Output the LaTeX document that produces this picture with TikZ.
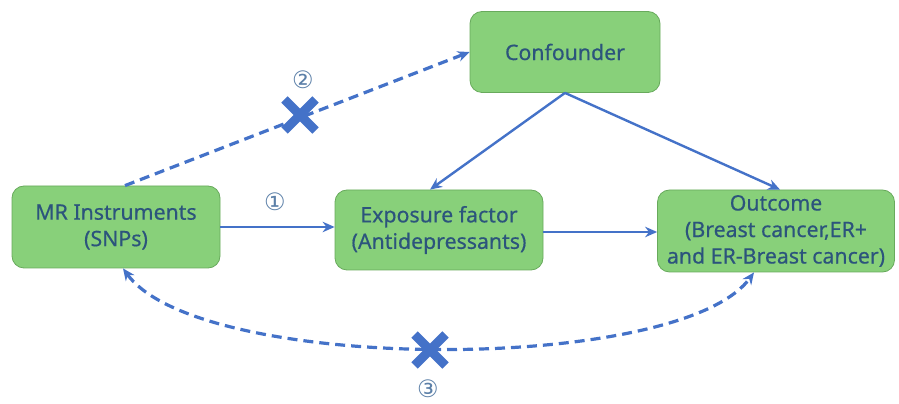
\documentclass[tikz,border=0pt]{standalone}
\usepackage{fontspec}
\setmainfont{Noto Sans}[FakeBold=0.5]
\newfontfamily\symfont{DejaVu Sans}
\usetikzlibrary{arrows.meta,shapes.misc}
\definecolor{boxfill}{RGB}{136,208,122}
\definecolor{boxline}{RGB}{104,170,92}
\definecolor{boxtext}{RGB}{44,84,124}
\definecolor{linkblue}{RGB}{68,114,200}
\definecolor{marknum}{RGB}{92,128,168}
\tikzset{
  >={Stealth[length=12pt,width=10.5pt]},
  factor/.style={draw=boxline, line width=0.8pt, fill=boxfill, rounded corners=12pt,
    text=boxtext, font=\fontsize{21.3}{26.5}\selectfont, align=center, inner sep=0pt},
  link/.style={draw=linkblue, line width=2.4pt, ->},
  blocked/.style={draw=linkblue, line width=3.2pt, dash pattern=on 10pt off 6pt},
  cross/.style={cross out, draw=linkblue, line width=9pt, minimum size=22pt, inner sep=0pt},
  pathno/.style={text=marknum, font=\symfont\fontsize{24}{24}\selectfont, inner sep=0pt}
}
\begin{document}
\begin{tikzpicture}[x=1pt,y=1pt]
\useasboundingbox (0,0) rectangle (899,404);

% boxes
\node[factor, minimum width=190pt, minimum height=81pt] (conf) at (565,352) {Confounder};
\node[factor, minimum width=208pt, minimum height=82pt] (mr) at (116,177) {MR Instruments\\(SNPs)};
\node[factor, minimum width=208pt, minimum height=80pt] (exp) at (439,174) {Exposure factor\\(Antidepressants)};
\node[factor, minimum width=237pt, minimum height=82pt] (out) at (776,173) {Outcome\\(Breast cancer,ER+\\and ER-Breast cancer)};

% direct paths
\coordinate (expr) at ([yshift=-2pt]exp.east);
\draw[link] (mr.east) -- (exp.west |- mr.east);
\draw[link] (expr) -- (out.west |- expr);
\draw[link] (conf.south) -- ([xshift=-9pt]exp.north);
\draw[link] (conf.south) -- ([xshift=4pt]out.north);

% violated assumptions
\draw[blocked, ->] ([xshift=9pt]mr.north) -- (conf.west);
\draw[blocked, <->] ([xshift=7pt]mr.south) .. controls (200,30) and (680,30) .. ([xshift=-22pt]out.south);

% crosses and path numbers
\node[cross] (x2) at (300,289) {};
\node[cross] (x3) at (430,54) {};
\node[pathno] (n1) at (275,202) {①};
\node[pathno] (n2) at (303,324) {②};
\node[pathno] (n3) at (428,15) {③};
\end{tikzpicture}
\end{document}
